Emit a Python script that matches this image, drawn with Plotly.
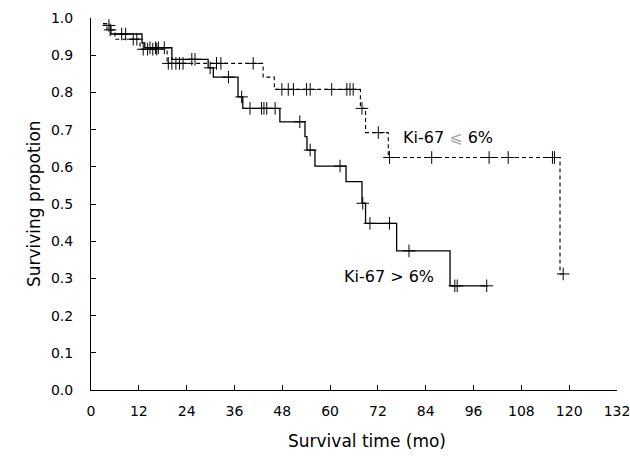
import plotly.graph_objects as go

# Ki-67 > 6% (solid) : step times and survival after each step
high_t = [3, 5, 12.8, 13.5, 20.3, 29.4, 30.7, 36.9, 38.1, 47.4, 53.7, 54.2, 56.2, 64.0, 68.0, 68.9, 76.7, 90.1, 99.6]
high_s = [0.98, 0.957, 0.933, 0.92, 0.889, 0.866, 0.841, 0.788, 0.757, 0.721, 0.681, 0.645, 0.602, 0.56, 0.502, 0.448, 0.374, 0.28, 0.28]
high_cens_t = [4.5, 7.7, 8.7, 14.8, 16.2, 16.9, 18.4, 25.3, 26.1, 29.9, 34.5, 37.8, 39.9, 42.8, 43.4, 44.1, 46.2,
               52.4, 55.0, 62.5, 68.2, 70.0, 74.9, 79.8, 91.3, 91.9, 99.3]

# Ki-67 <= 6% (dashed)
low_t = [3, 4, 6, 12.3, 19.1, 43.2, 46.0, 67.6, 68.9, 74.6, 117.7, 118.5]
low_s = [0.985, 0.968, 0.943, 0.916, 0.878, 0.841, 0.808, 0.757, 0.692, 0.625, 0.312, 0.312]
low_cens_t = [4.8, 10.6, 11.5, 13.1, 14.2, 15.5, 16.5, 19.4, 20.3, 21.3, 22.2, 23.1, 31.5, 32.6, 40.7,
              47.9, 49.5, 50.8, 54.1, 55.0, 60.4, 64.2, 65.0, 65.8, 68.0, 72.1, 74.9, 85.5, 99.9, 104.7,
              115.8, 116.3, 118.5]

x_ticks = [0, 12, 24, 36, 48, 60, 72, 84, 96, 108, 120, 132]
y_ticks = [0.0, 0.1, 0.2, 0.3, 0.4, 0.5, 0.6, 0.7, 0.8, 0.9, 1.0]


def step_value(ts, ss, t):
    v = ss[0]
    for ti, si in zip(ts, ss):
        if t >= ti:
            v = si
    return v


FONT = "DejaVu Sans"
fig = go.Figure()

fig.add_trace(go.Scatter(x=high_t, y=high_s, mode="lines", line_shape="hv",
                         line=dict(color="black", width=1.3), showlegend=False))
fig.add_trace(go.Scatter(x=low_t, y=low_s, mode="lines", line_shape="hv",
                         line=dict(color="black", width=1.1, dash="4px,3px"), showlegend=False))

fig.add_trace(go.Scatter(x=high_cens_t, y=[step_value(high_t, high_s, t) for t in high_cens_t],
                         mode="markers", showlegend=False,
                         marker=dict(symbol="cross-thin", size=9, line=dict(width=1, color="black"))))
fig.add_trace(go.Scatter(x=low_cens_t, y=[step_value(low_t, low_s, t) for t in low_cens_t],
                         mode="markers", showlegend=False,
                         marker=dict(symbol="cross-thin", size=9, line=dict(width=1, color="black"))))

fig.add_annotation(x=89.6, y=0.68, text="Ki-67 <span style='color:#aaaaaa'>⩽</span> 6%",
                   showarrow=False, font=dict(family=FONT, size=16, color="black"))
fig.add_annotation(x=74.7, y=0.304, text="Ki-67 &gt; 6%",
                   showarrow=False, font=dict(family=FONT, size=16, color="black"))

fig.add_annotation(xref="paper", yref="paper", x=0.525, y=-0.137, text="Survival time (mo)",
                   showarrow=False, yanchor="middle", font=dict(family=FONT, size=17, color="black"))
fig.add_annotation(xref="paper", yref="paper", x=-0.131, y=0.5, text="Surviving propotion",
                   showarrow=False, textangle=-90, font=dict(family=FONT, size=17, color="black"))

fig.update_xaxes(range=[0, 132], tickvals=x_ticks, ticktext=[str(v) for v in x_ticks],
                 showgrid=False, zeroline=False, showline=True, linecolor="black", linewidth=1,
                 ticks="inside", ticklen=5, tickcolor="black", ticklabelstandoff=8,
                 ticklabeloverflow="allow", automargin=False,
                 tickfont=dict(family=FONT, size=14, color="black"))
fig.update_yaxes(range=[0, 1], tickvals=y_ticks, ticktext=[f"{v:.1f}" for v in y_ticks],
                 showgrid=False, zeroline=False, showline=True, linecolor="black", linewidth=1,
                 ticks="inside", ticklen=5, tickcolor="black", ticklabelstandoff=14,
                 automargin=False,
                 tickfont=dict(family=FONT, size=14, color="black"))

fig.update_layout(width=630, height=465, plot_bgcolor="white", paper_bgcolor="white",
                  margin=dict(l=91, r=13, t=18, b=75), showlegend=False)

# remove the default page margin so the figure fills the window exactly
fig.write_html("out.html", config={"displayModeBar": False},
               post_script="document.body.style.margin='0px';document.body.style.overflow='hidden';")
